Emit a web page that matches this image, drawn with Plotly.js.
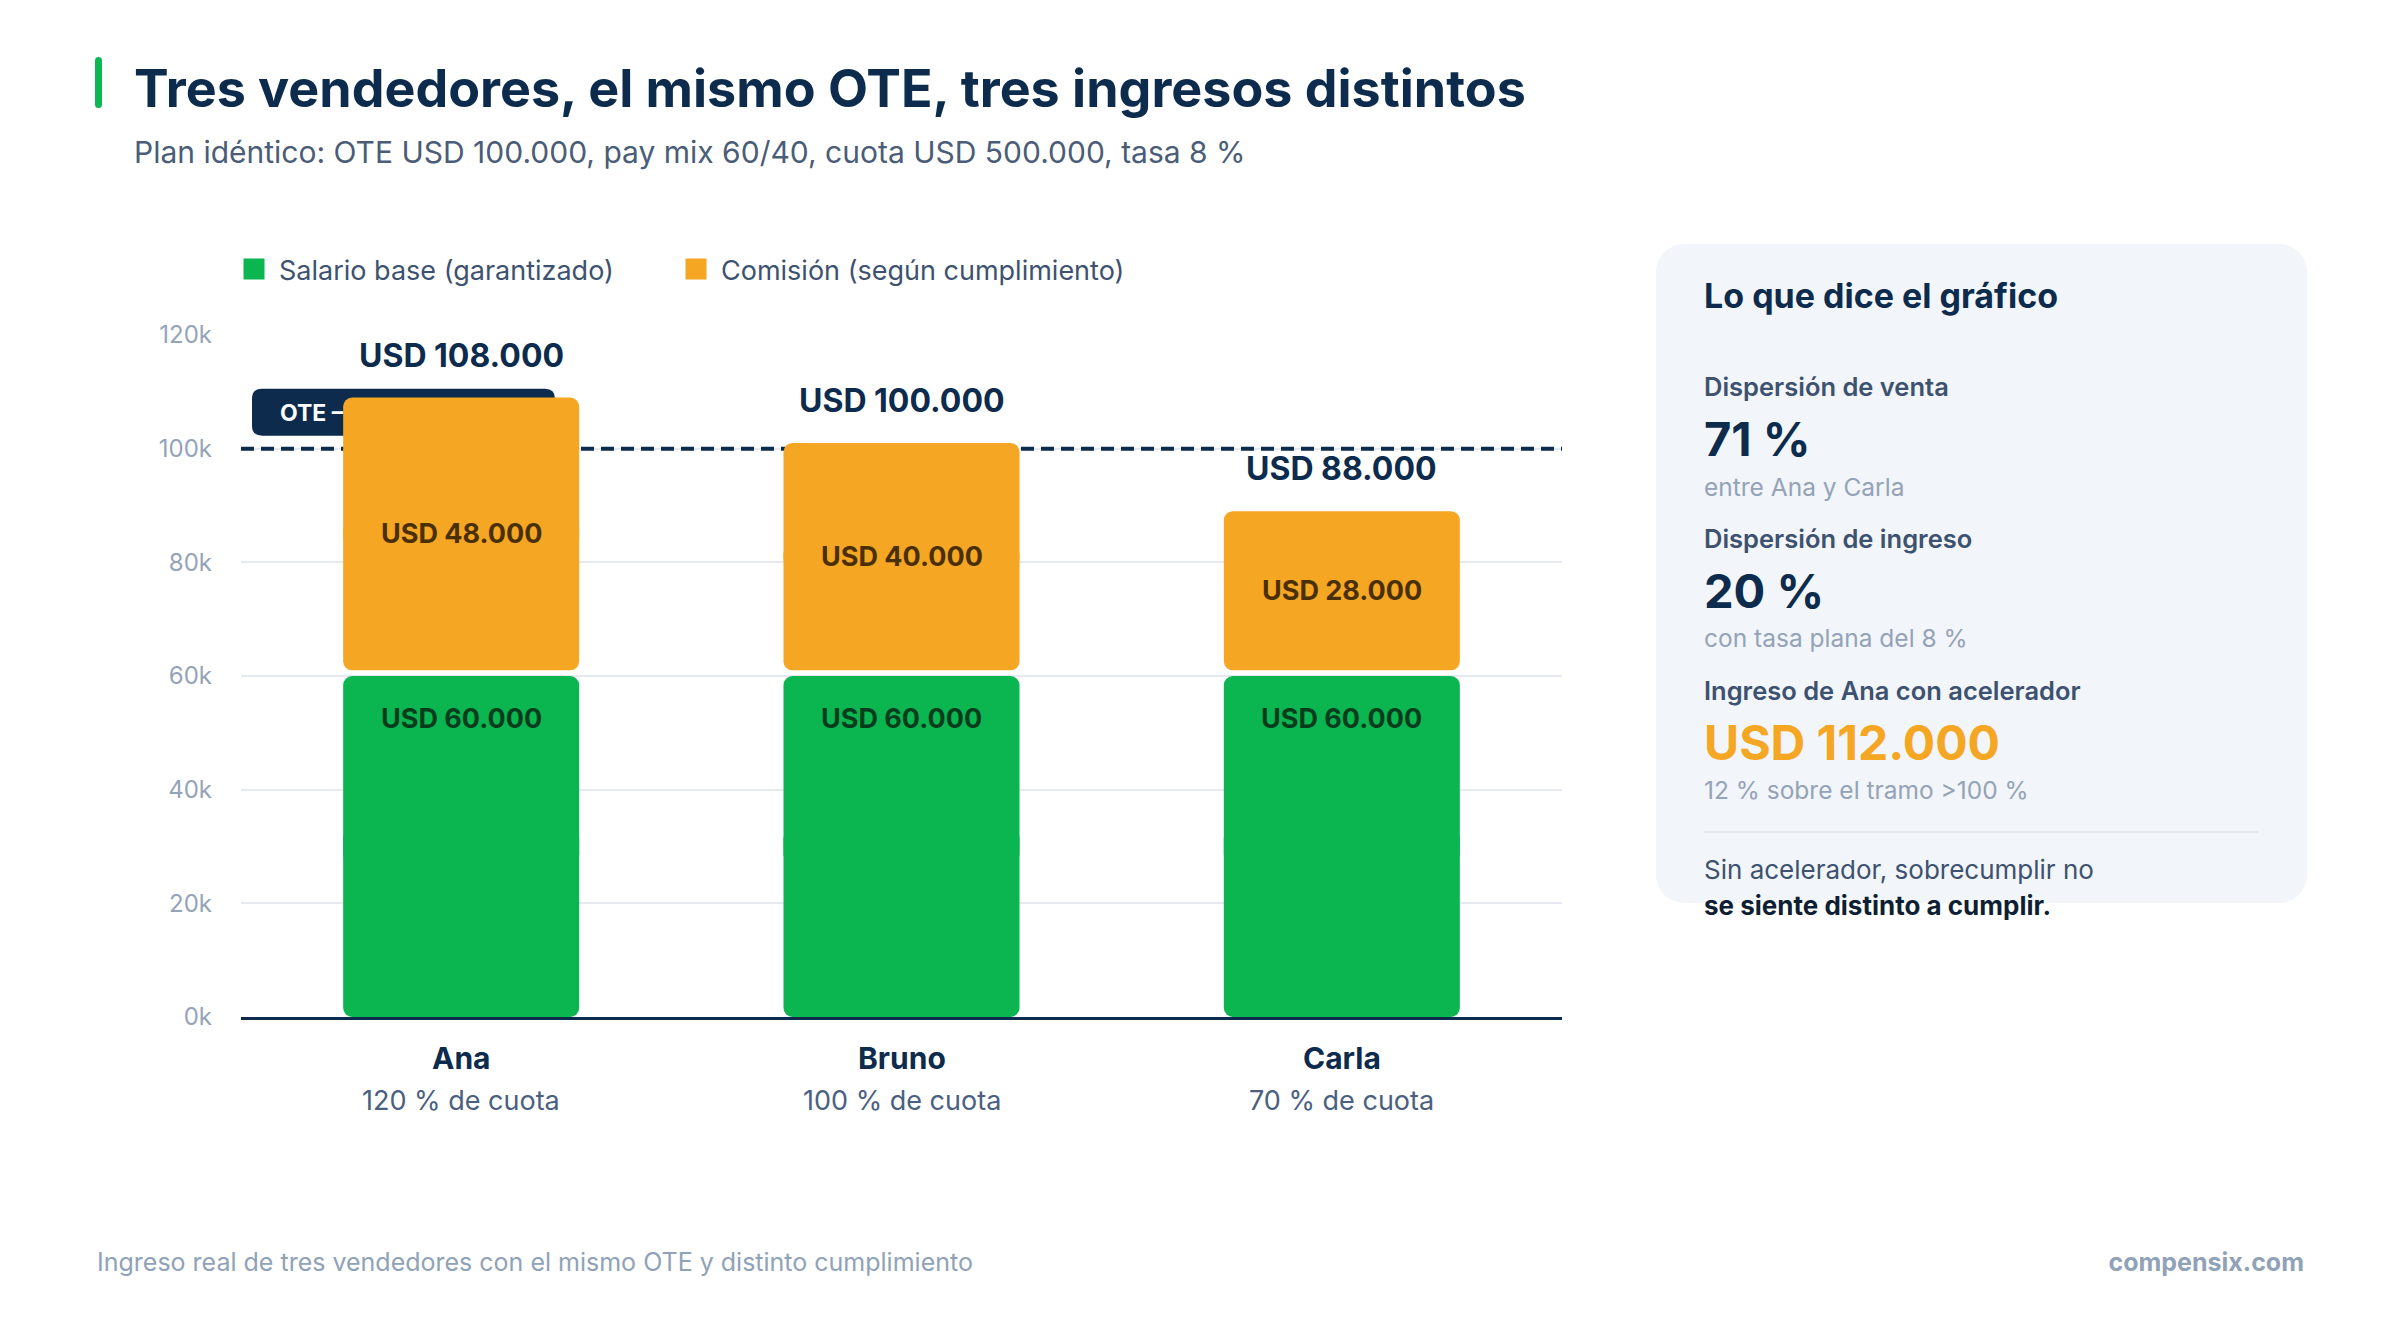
<!DOCTYPE html>
<html lang="es">
<head>
<meta charset="utf-8">
<title>Tres vendedores, el mismo OTE</title>
<script src="https://cdn.plot.ly/plotly-3.0.1.min.js"></script>
<style>
  html, body { margin: 0; padding: 0; background: #fff; }
  body { width: 2400px; height: 1320px; position: relative; overflow: hidden;
         font-family: Inter, "Noto Sans", sans-serif; }
  .abs { position: absolute; line-height: 1; white-space: nowrap; }
  #accent { left: 95px; top: 57px; width: 7px; height: 51px; border-radius: 4px; background: #0cb754; }
  #title { left: 134px; top: 63px; font-size: 52px; font-weight: 700; color: #0c2b4d; }
  #subtitle { left: 134px; top: 137px; font-size: 30px; color: #4a5d78; }
  #chart { position: absolute; left: 0; top: 0; width: 1650px; height: 1200px; }
  #panel { position: absolute; left: 1656px; top: 244px; width: 651px; height: 659px;
           border-radius: 28px; background: #f2f5f9; }
  .p { left: 1704px; }
  .h { font-size: 34px; font-weight: 700; color: #0c2b4d; }
  .lbl { font-size: 25.5px; font-weight: 600; color: #3d5270; }
  .big { font-size: 47px; font-weight: 700; color: #0c2b4d; }
  .sub { font-size: 24.5px; color: #94a3b8; }
  #divider { position: absolute; left: 1704px; top: 831px; width: 555px; height: 2px; background: #e3e8ef; }
  #foot { left: 97px; top: 1250px; font-size: 25px; color: #8fa2b7; }
  #brand { right: 96px; top: 1250px; font-size: 25px; font-weight: 700; color: #8fa2b7; }
</style>
</head>
<body>
<div id="accent" class="abs"></div>
<div id="title" class="abs">Tres vendedores, el mismo OTE, tres ingresos distintos</div>
<div id="subtitle" class="abs">Plan idéntico: OTE USD 100.000, pay mix 60/40, cuota USD 500.000, tasa 8 %</div>

<div id="chart"></div>

<div id="panel"></div>
<div class="abs p h" style="top:279px">Lo que dice el gráfico</div>
<div class="abs p lbl" style="top:374px">Dispersión de venta</div>
<div class="abs p big" style="top:415px">71 %</div>
<div class="abs p sub" style="top:475px">entre Ana y Carla</div>
<div class="abs p lbl" style="top:526px">Dispersión de ingreso</div>
<div class="abs p big" style="top:567px">20 %</div>
<div class="abs p sub" style="top:626px">con tasa plana del 8 %</div>
<div class="abs p lbl" style="top:678px">Ingreso de Ana con acelerador</div>
<div class="abs p big" style="top:719px;font-size:48px;color:#f5a623">USD 112.000</div>
<div class="abs p sub" style="top:778px">12 % sobre el tramo &gt;100 %</div>
<div id="divider"></div>
<div class="abs p" style="top:857px;font-size:26px;color:#3d5270">Sin acelerador, sobrecumplir no</div>
<div class="abs p" style="top:893px;font-size:26px;font-weight:700;color:#0f1f33">se siente distinto a cumplir.</div>

<div id="foot" class="abs">Ingreso real de tres vendedores con el mismo OTE y distinto cumplimiento</div>
<div id="brand" class="abs">compensix.com</div>

<script>
  "use strict";

  // data
  const vendedores = ['Ana', 'Bruno', 'Carla'];
  const cumplimiento = [120, 100, 70];          // % de cuota
  const salarioBase = [60000, 60000, 60000];
  const comision = [48000, 40000, 28000];
  const ote = 100000;
  const yTickVals = [0, 20000, 40000, 60000, 80000, 100000, 120000];
  const yTickText = ['0k', '20k', '40k', '60k', '80k', '100k', '120k'];

  const NAVY = '#0c2b4d', GREEN = '#0bb651', ORANGE = '#f5a623';
  const FONT = 'Inter, "Noto Sans", sans-serif';
  const GAP = 1000;       // white gap between the two segments, in data units
  const BARW = 0.536;

  // plot box in px (used only to place the OTE badge and legends)
  const M = {l: 241, r: 88, t: 335, b: 183};
  const W = 1650, H = 1200;
  const plotW = W - M.l - M.r, plotH = H - M.t - M.b;
  const yMax = 120000;
  const px2y = p => p * yMax / plotH;
  const px2x = p => -0.5 + p * vendedores.length / plotW;

  let total = salarioBase.map((s, i) => s + comision[i]);
  let usd = v => 'USD ' + String(v).replace(/\B(?=(\d{3})+(?!\d))/g, '.');

  // Plotly only rounds the outer end of a bar, so each segment is drawn as an
  // upward half (rounded top) plus an overlapping downward half (rounded bottom)
  function segment(lo, hi, color) {
    let common = {type: 'bar', x: vendedores, width: BARW, showlegend: false, hoverinfo: 'skip',
      marker: {color: color, cornerradius: 9, line: {width: 0}}};
    let up = Object.assign({}, common, {
      base: lo.map((l, i) => l + (hi[i] - l) * 0.45),
      y: lo.map((l, i) => (hi[i] - l) * 0.55)
    });
    let down = Object.assign({}, common, {
      base: lo.map((l, i) => l + (hi[i] - l) * 0.55),
      y: lo.map((l, i) => -(hi[i] - l) * 0.55)
    });
    return [up, down];
  }

  let legendMarker = c => ({symbol: 'square', size: 16, color: c, line: {color: c, width: 5}});

  let traces = [
    ...segment(vendedores.map(() => 0), salarioBase, GREEN),
    ...segment(salarioBase.map(s => s + GAP), total.map(t => t + GAP), ORANGE),
    // legend-only entries
    {type: 'scatter', mode: 'markers', x: [null], y: [null], name: 'Salario base (garantizado)',
      legend: 'legend', marker: legendMarker(GREEN)},
    {type: 'scatter', mode: 'markers', x: [null], y: [null], name: 'Comisión (según cumplimiento)',
      legend: 'legend2', marker: legendMarker(ORANGE)},
  ];

  let annotations = [];
  vendedores.forEach((v, i) => {
    annotations.push(
      {x: v, y: total[i], yshift: 48, text: '<b>' + usd(total[i]) + '</b>',
        font: {size: 32, color: NAVY}},
      {x: v, y: salarioBase[i] + GAP + comision[i] / 2, text: '<b>' + usd(comision[i]) + '</b>',
        font: {size: 27, color: '#4a3000'}},
      {x: v, y: salarioBase[i], yshift: -42, text: '<b>' + usd(salarioBase[i]) + '</b>',
        font: {size: 27, color: '#053d1c'}},
      {x: v, y: 0, yshift: -41, text: '<b>' + v + '</b>', font: {size: 30, color: NAVY}},
      {x: v, y: 0, yshift: -83, text: cumplimiento[i] + ' % de cuota', font: {size: 27, color: '#4a6080'}}
    );
  });
  annotations.forEach(a => Object.assign(a, {xref: 'x', yref: 'y', showarrow: false,
    xanchor: 'center', yanchor: 'middle'}));

  // 'between' = above the grid lines, under the bars
  let shapes = [
    // OTE reference line
    {type: 'line', layer: 'between', xref: 'x', x0: -0.5, x1: vendedores.length - 0.5,
      yref: 'y', y0: ote, y1: ote, line: {color: NAVY, width: 4, dash: '13px,7px'}},
    // OTE badge (rounded box, pixel sized, anchored on the OTE line)
    {type: 'path', layer: 'between', xref: 'x', xsizemode: 'pixel', xanchor: -0.5,
      yref: 'y', ysizemode: 'pixel', yanchor: ote,
      path: 'M21,13 H304 Q314,13 314,23 V50 Q314,60 304,60 H21 Q11,60 11,50 V23 Q11,13 21,13 Z',
      fillcolor: NAVY, line: {width: 0}},
    // badge text (Ana's bar covers most of it)
    {type: 'rect', layer: 'between', xref: 'x', x0: px2x(11), x1: px2x(314),
      yref: 'y', y0: ote + px2y(13), y1: ote + px2y(60),
      fillcolor: 'rgba(0,0,0,0)', line: {width: 0},
      label: {text: 'OTE – ' + usd(ote), textposition: 'middle left', padding: 25,
        font: {size: 23, color: '#ffffff', family: FONT, weight: 700}}},
  ];

  let legendStyle = {orientation: 'h', xanchor: 'left', y: 1.132, yanchor: 'top',
    itemwidth: 40, itemclick: false, font: {size: 27, color: '#3d5270'}, bgcolor: 'rgba(0,0,0,0)'};

  let layout = {
    width: W, height: H,
    margin: Object.assign({pad: 0}, M),
    paper_bgcolor: 'rgba(0,0,0,0)', plot_bgcolor: 'rgba(0,0,0,0)',
    font: {family: FONT, color: NAVY},
    barmode: 'overlay',
    showlegend: true,
    legend: Object.assign({x: (229 - M.l) / plotW}, legendStyle),
    legend2: Object.assign({x: (671 - M.l) / plotW}, legendStyle),
    xaxis: {type: 'category', range: [-0.5, 2.5], showticklabels: false, ticks: '',
      showgrid: false, zeroline: false, showline: true, linecolor: NAVY, linewidth: 3, fixedrange: true},
    yaxis: {range: [0, yMax], tickvals: yTickVals, ticktext: yTickText, ticks: '',
      ticklabelstandoff: 28, tickfont: {size: 24, color: '#94a3b8'},
      showgrid: true, gridcolor: '#e6eaf0', gridwidth: 2, zeroline: false, fixedrange: true},
    annotations: annotations,
    shapes: shapes,
  };

  Plotly.newPlot('chart', traces, layout, {displayModeBar: false, staticPlot: true});
</script>
</body>
</html>
